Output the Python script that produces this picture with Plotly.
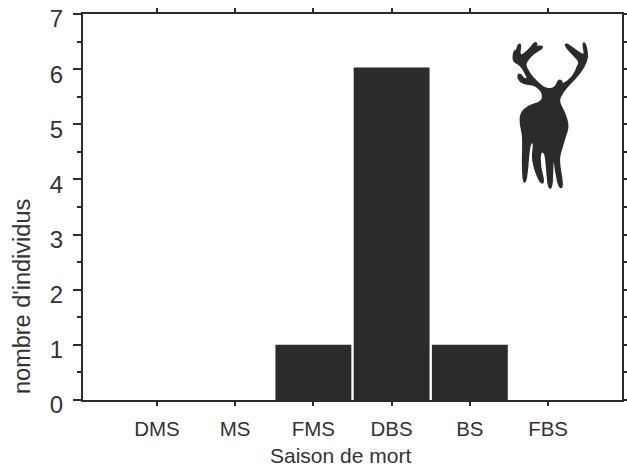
import plotly.graph_objects as go

categories = ["DMS", "MS", "FMS", "DBS", "BS", "FBS"]
values = [0, 0, 1, 6.03, 1, 0]
y_ticks = [0, 1, 2, 3, 4, 5, 6, 7]
x_title = "Saison de mort"
y_title = "nombre d'individus"

W, H = 627, 474
L, R, T, B = 83, 622, 14, 400
INK = "#2b2b2b"

# deer silhouette outline (decoration, not data), traced in a 3x crop whose origin is (490, 20)
deer = [(158,245),(158,215),(135,195),(118,193),(95,190),(83,172),(85,163),(93,163),(100,176),(115,178),
(105,158),(95,140),(85,132),(68,122),(72,92),(80,92),(85,72),(93,73),(88,100),(95,108),(118,88),(135,66),
(142,72),(137,80),(157,78),(157,85),(130,100),(112,120),(105,135),(118,160),(135,180),(165,207),(195,205),
(205,180),(215,182),(218,195),(250,170),(262,140),(270,125),(250,105),(225,78),(228,70),(250,85),(272,102),
(285,105),(278,70),(285,68),(293,100),(290,125),(270,160),(240,190),(215,220),(205,245),(225,280),(236,320),
(225,350),(215,385),(205,420),(220,500),(208,505),(198,460),(190,400),(188,440),(186,505),(175,505),(170,440),
(165,395),(150,395),(150,440),(163,488),(150,490),(125,420),(133,365),(118,370),(110,480),(100,490),(97,420),
(100,350),(90,310),(92,280),(115,258)]
def to_paper(zx, zy):
    x, y = 490 + zx / 3, 20 + zy / 3
    return f"{(x - L) / (R - L):.4f} {(B - y) / (B - T):.4f}"
def mid(a, b):
    return ((a[0] + b[0]) / 2, (a[1] + b[1]) / 2)
n = len(deer)
path = "M " + to_paper(*mid(deer[-1], deer[0]))
for i in range(n):
    path += " Q " + to_paper(*deer[i]) + " " + to_paper(*mid(deer[i], deer[(i + 1) % n]))
path += " Z"

fig = go.Figure(go.Bar(x=categories, y=values, width=0.97,
                       marker=dict(color=INK, line=dict(width=0)),
                       hoverinfo="skip"))
font = dict(family="Liberation Sans, Arial, sans-serif", color="#333333")
fig.update_layout(
    width=W, height=H, autosize=False, showlegend=False,
    paper_bgcolor="white", plot_bgcolor="white",
    margin=dict(l=L, r=W-R, t=T, b=H-B, autoexpand=False),
    font=font,
    shapes=[dict(type="path", xref="paper", yref="paper", path=path,
                 fillcolor=INK, line=dict(color=INK, width=1.5))],
    annotations=[
        dict(text=x_title, xref="paper", yref="paper", x=(340-L)/(R-L), y=(B-455)/(B-T),
             xanchor="center", yanchor="middle", showarrow=False, font=dict(size=21)),
        dict(text=y_title, xref="paper", yref="paper", x=(22-L)/(R-L), y=(B-297)/(B-T),
             xanchor="center", yanchor="middle", showarrow=False, textangle=-90, font=dict(size=23.5)),
    ],
)
fig.update_xaxes(range=[-0.945, 5.945], showgrid=False, zeroline=False, automargin=False,
                 showline=True, linecolor=INK, linewidth=2, mirror="allticks",
                 ticks="outside", ticklen=4, tickwidth=1.5, tickcolor=INK,
                 tickfont=dict(size=20.5), ticklabelstandoff=5)
fig.update_yaxes(range=[0, 7], tickvals=y_ticks, showgrid=False, zeroline=False, automargin=False,
                 showline=True, linecolor=INK, linewidth=2, mirror="allticks",
                 ticks="outside", ticklen=8, tickwidth=1.5, tickcolor=INK,
                 minor=dict(dtick=0.5, ticks="outside", ticklen=4, tickwidth=1.5, tickcolor=INK),
                 tickfont=dict(size=24), ticklabelshift=5, ticklabelstandoff=5, ticklabeloverflow="allow")
fig.write_html("out.html", config={"displayModeBar": False},
               post_script="document.body.style.margin='0';document.body.style.overflow='hidden';")
